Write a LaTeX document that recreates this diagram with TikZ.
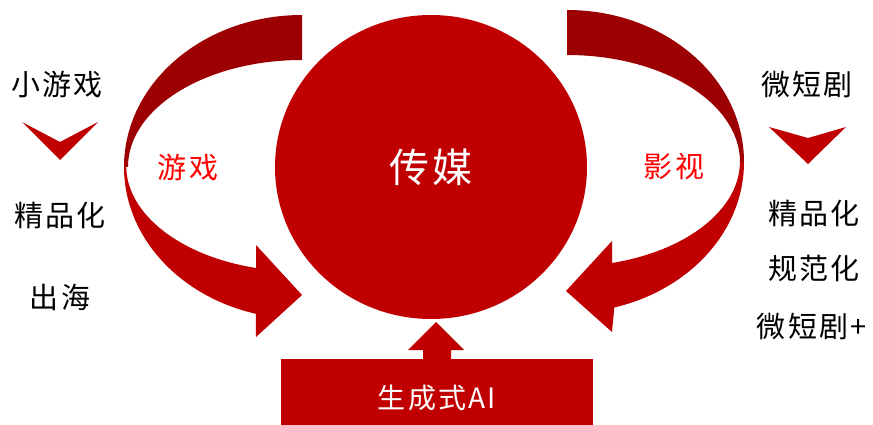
\documentclass[tikz,border=0pt]{standalone}
\usepackage{fontspec}
\setmainfont{Noto Sans CJK SC}
\newfontfamily\spacedcjk[LetterSpace=8]{Noto Sans CJK SC}
\usetikzlibrary{shapes.geometric}
\definecolor{redc}{HTML}{C00000}
\definecolor{darkc}{HTML}{9C0000}
\definecolor{labelred}{HTML}{FF0000}
\begin{document}
\begin{tikzpicture}[x=1pt,y=1pt,
  sidetext/.style={font=\spacedcjk\fontsize{29}{34}\selectfont, text=black, inner sep=0},
  looptext/.style={font=\spacedcjk\fontsize{29}{34}\selectfont, text=labelred, inner sep=0},
  chev/.style={fill=redc}]
\useasboundingbox (0,0) rectangle (873,-425);

% left curved arrow (upper dark part)
\fill[darkc] (302,-15) arc[start angle=90,end angle=180,x radius=178,y radius=152]
  -- (128,-167) arc[start angle=180,end angle=90,x radius=174,y radius=107] -- cycle;
% left curved arrow (lower part with head)
\fill[redc] (124,-167) arc[start angle=180,end angle=255,x radius=178,y radius=152]
  -- (256,-337) -- (302,-295) -- (256,-245) -- (256,-268)
  arc[start angle=255.3,end angle=180,x radius=174,y radius=106] -- cycle;

% right curved arrow (upper dark part)
\fill[darkc] (567,-10) arc[start angle=90,end angle=0,x radius=177,y radius=152]
  -- (740,-162) arc[start angle=0,end angle=90,x radius=173,y radius=107] -- cycle;
% right curved arrow (lower part with head)
\fill[redc] (744,-162) arc[start angle=0,end angle=-74.5,x radius=177,y radius=151]
  -- (612,-332) -- (566,-291) -- (612,-241) -- (612,-263)
  arc[start angle=-74.9,end angle=0,x radius=173,y radius=105] -- cycle;

% central circle
\node[ellipse, fill=redc, minimum width=312, minimum height=304, inner sep=0,
      font=\spacedcjk\fontsize{40}{46}\selectfont, text=white] (media) at (431,-167) {传媒};

% bottom box
\node[rectangle, fill=redc, minimum width=312, minimum height=66, inner sep=0] (ai) at (437,-392) {};
\node[font=\spacedcjk\fontsize{28}{32}\selectfont, text=white, inner sep=0] (ailabel) at (437,-398) {生成式AI};

% up block arrow from box to circle
\fill[redc] (423,-359) -- (423,-350) -- (408,-350) -- (436,-322) -- (464,-350) -- (451,-350) -- (451,-359) -- cycle;

% loop labels
\node[looptext] (game) at (188,-168) {游戏};
\node[looptext] (film) at (674,-167) {影视};

% left column
\node[sidetext] (l1) at (57,-85) {小游戏};
\fill[chev] (22,-122) -- (60,-142) -- (98,-122) -- (60,-160) -- cycle;
\node[sidetext] (l2) at (60,-215) {精品化};
\node[sidetext] (l3) at (60,-297) {出海};

% right column
\node[sidetext] (r1) at (807,-85) {微短剧};
\fill[chev] (769,-127) -- (808,-138) -- (846,-127) -- (808,-164) -- cycle;
\node[sidetext] (r2) at (814,-213) {精品化};
\node[sidetext] (r3) at (814,-268) {规范化};
\node[sidetext] (r4) at (812,-327) {微短剧+};
\end{tikzpicture}
\end{document}
